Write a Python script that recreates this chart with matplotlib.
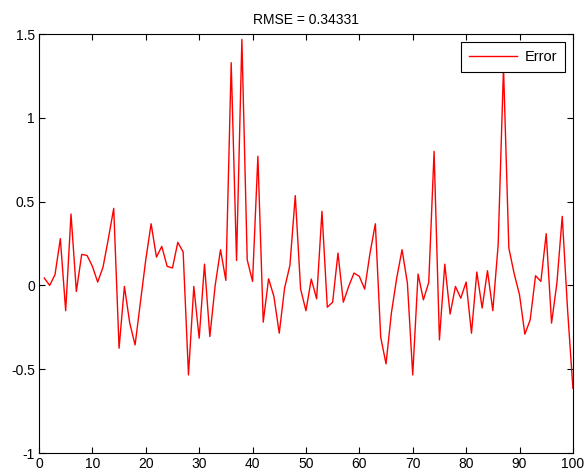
import matplotlib.pyplot as plt
import numpy as np

plt.rcParams['font.family'] = ['Liberation Sans', 'DejaVu Sans']

# error per sample
samples = np.arange(1, 101)
error = [0.044, 0.0, 0.064, 0.279, -0.151, 0.426, -0.036, 0.185, 0.179, 0.114,
         0.02, 0.11, 0.28, 0.46, -0.375, -0.006, -0.225, -0.355, -0.1, 0.153,
         0.368, 0.169, 0.233, 0.114, 0.104, 0.257, 0.2, -0.534, -0.006, -0.315,
         0.127, -0.305, 0.0, 0.213, 0.03, 1.329, 0.149, 1.468, 0.153, 0.024,
         0.771, -0.219, 0.04, -0.066, -0.285, -0.016, 0.12, 0.536, -0.022, -0.151,
         0.038, -0.08, 0.442, -0.13, -0.1, 0.193, -0.1, -0.006, 0.074, 0.054,
         -0.022, 0.193, 0.368, -0.309, -0.468, -0.165, 0.044, 0.213, 0.014, -0.534,
         0.068, -0.086, 0.018, 0.8, -0.325, 0.127, -0.171, -0.006, -0.076, 0.02,
         -0.285, 0.08, -0.135, 0.088, -0.151, 0.243, 1.30, 0.223, 0.07, -0.056,
         -0.291, -0.205, 0.058, 0.024, 0.309, -0.225, 0.014, 0.412, -0.145, -0.614]
rmse_label = 'RMSE = 0.34331'

fig = plt.figure(figsize=(5.87, 4.75), dpi=100)
ax = fig.add_axes([0.0664, 0.0463, 0.9096, 0.882])

ax.plot(samples, error, color='red', linewidth=1.0, label='Error')
ax.set_xlim(0, 100)
ax.set_ylim(-1, 1.5)
ax.set_xticks(np.arange(0, 101, 10))
ax.set_yticks([-1, -0.5, 0, 0.5, 1, 1.5])
ax.set_yticklabels(['-1', '-0.5', '0', '0.5', '1', '1.5'])
ax.tick_params(direction='in', top=True, right=True, labelsize=10, length=4, pad=3)
for s in ax.spines.values():
    s.set_linewidth(0.8)
ax.set_title(rmse_label, fontsize=10, pad=7)

leg = ax.legend(loc='upper right', fontsize=10.5, fancybox=False, edgecolor='k',
                framealpha=1, borderaxespad=0.55, borderpad=0.55,
                handlelength=3.3, handletextpad=0.5)
leg.get_frame().set_linewidth(0.8)

fig.savefig('out.png', dpi=100)
